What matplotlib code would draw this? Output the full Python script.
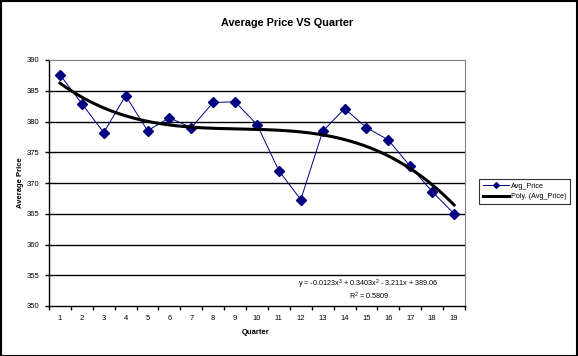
import numpy as np
import matplotlib
matplotlib.use('Agg')
import matplotlib.pyplot as plt
from matplotlib.patches import Rectangle

#data
quarters = list(range(1, 20))
avg_price = [387.6, 382.9, 378.2, 384.2, 378.5, 380.6, 379.0, 383.1, 383.2, 379.5,
             372.0, 367.3, 378.4, 382.1, 379.0, 377.0, 372.7, 368.6, 365.0]
y_ticks = [350, 355, 360, 365, 370, 375, 380, 385, 390]
eq_text = 'y = -0.0123x$^3$ + 0.3403x$^2$ - 3.211x + 389.06'
r2_text = 'R$^2$ = 0.5809'

plt.rcParams['font.family'] = ['Liberation Sans', 'DejaVu Sans']
plt.rcParams['mathtext.fontset'] = 'custom'
plt.rcParams['mathtext.rm'] = 'Liberation Sans'

fig = plt.figure(figsize=(5.78, 3.56), dpi=100)
ax = fig.add_axes([49/578, 1 - 306/356, (465 - 49)/578, (306 - 60)/356])

# outer chart border
fig.patches.append(Rectangle((0.5/578, 0.5/356), 576.5/578, 354.5/356, transform=fig.transFigure,
                             fill=False, edgecolor='black', linewidth=1.5))

# cubic trend like excel's polynomial trendline
coef = np.polyfit(quarters, avg_price, 3)
xs = np.linspace(1, 19, 200)
trend = np.polyval(coef, xs)

ax.plot(quarters, avg_price, color='#000080', linewidth=0.7, marker='D', markersize=4.8,
        label='Avg_Price', zorder=3)
ax.plot(xs, trend, color='black', linewidth=2.2, label='Poly. (Avg_Price)', zorder=4)

ax.set_xlim(0.5, 19.5)
ax.set_ylim(350, 390)
ax.set_yticks(y_ticks)
ax.set_yticklabels([str(v) for v in y_ticks], fontsize=5.5)
for v in y_ticks[1:-1]:
    ax.axhline(v, color='black', linewidth=1, zorder=1)

# ticks between categories, labels at category centres
ax.set_xticks(np.arange(0.5, 20, 1))
ax.set_xticklabels([])
ax.set_xticks(quarters, minor=True)
ax.set_xticklabels([str(q) for q in quarters], minor=True, fontsize=5.5)
ax.tick_params(axis='x', which='minor', length=0, pad=6.5)
ax.tick_params(axis='x', which='major', length=3, width=1, direction='out')
ax.tick_params(axis='y', length=3, width=1, direction='out', pad=4)

ax.spines['top'].set_color('#808080')
ax.spines['right'].set_color('#808080')
ax.spines['left'].set_linewidth(1)
ax.spines['bottom'].set_linewidth(1)

fig.text(287/578, 1 - 23/356, 'Average Price VS Quarter', ha='center', va='center',
         fontsize=7.8, fontweight='bold')
fig.text(256/578, 1 - 332/356, 'Quarter', ha='center', va='center', fontsize=5.5, fontweight='bold')
fig.text(20/578, 1 - 183/356, 'Average Price', ha='center', va='center', rotation=90,
         fontsize=5.5, fontweight='bold')

fig.text(368/578, 1 - 284/356, eq_text, ha='center', va='center', fontsize=5.2)
fig.text(369/578, 1 - 296/356, r2_text, ha='center', va='center', fontsize=5.2)

leg = ax.legend(loc='upper left', bbox_to_anchor=(479/578, 1 - 179/356), bbox_transform=fig.transFigure,
                fontsize=5.2, frameon=True, fancybox=False, edgecolor='black', borderpad=0.5,
                handlelength=3.6, handletextpad=0.3, labelspacing=0.5, markerscale=0.6,
                borderaxespad=0)
leg.get_frame().set_linewidth(0.8)

fig.savefig('out.png', dpi=100)
